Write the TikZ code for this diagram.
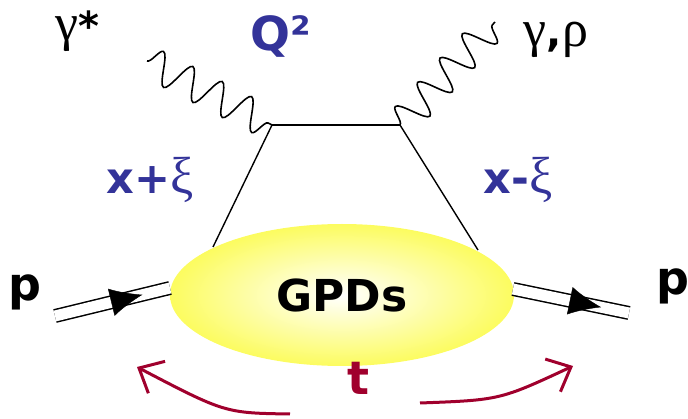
\documentclass[tikz,border=0pt]{standalone}
\usepackage{fontspec}
\setmainfont{DejaVu Sans}
\newfontfamily\greekfont{Liberation Serif}
\usepackage{tikz}
\usetikzlibrary{arrows.meta}
\usetikzlibrary{calc}
\usetikzlibrary{positioning}
\usetikzlibrary{shapes.geometric}
\usetikzlibrary{decorations.pathmorphing,decorations.markings}

\definecolor{qblue}{RGB}{51,51,153}
\definecolor{tred}{RGB}{160,0,45}
\definecolor{gpdyellow}{RGB}{252,252,95}

\tikzset{
  photon/.style={decorate, decoration={snake, segment length=33pt, amplitude=16pt}, line width=1.6pt},
  quark/.style={line width=1.4pt},
  proton/.style={double, double distance=11pt, line width=1.5pt},
  protonarrow/.style={postaction={decorate}, decoration={markings, mark=at position 0.76 with {\arrow{Latex[length=32pt,width=28pt]}}}},
  tarrow/.style={draw=tred, line width=3pt, -{Straight Barb[length=20pt,width=36pt,line width=3pt]}},
  gpd/.style={ellipse, minimum width=344pt, minimum height=142pt, inner color=white, outer color=gpdyellow, font=\fontsize{44}{48}\selectfont\bfseries},
  lbl/.style={inner sep=0pt, font=\fontsize{46}{50}\selectfont\bfseries},
  glbl/.style={inner sep=0pt, font=\fontsize{40}{44}\selectfont},
  blbl/.style={inner sep=0pt, text=qblue, font=\fontsize{43}{46}\selectfont\bfseries}
}

\newcommand{\gk}[1]{{\fontsize{52}{56}\selectfont\mdseries\greekfont #1}}

\begin{document}
\begin{tikzpicture}[x=1pt, y=-1pt, >=Latex]
	\useasboundingbox (0,0) rectangle (688,419);
	% blob
	\node[gpd] (gpd) at (342,295) {GPDs};
	% vertices
	\coordinate (v1) at (272,125);
	\coordinate (v2) at (400,125);
	\coordinate (gl) at (213,247);
	\coordinate (gr) at (478,250);
	\coordinate (g1) at (147,61);
	\coordinate (g2) at (495,22);
	\draw[quark] (v1) -- (v2);
	\draw[quark] (v1) -- (gl);
	\draw[quark] (v2) -- (gr);
	\draw[photon] (g1) -- (v1);
	\draw[photon] (v2) -- (g2);
	% protons
	\coordinate (pin) at (55,316);
	\coordinate (pl) at (170,288);
	\coordinate (pr) at (513,289);
	\coordinate (pout) at (629,313);
	\draw[proton] (pin) -- (pl);
	\path[protonarrow] (pin) -- (pl);
	\draw[proton] (pr) -- (pout);
	\path[protonarrow] (pr) -- (pout);
	% labels
	\node[glbl] (gstar) at (77,31) {\gk{γ}\textbf{*}};
	\node[glbl] (gout) at (556,40) {\gk{γ}\textbf{,}\gk{ρ}};
	\node[blbl, font=\fontsize{47}{50}\selectfont\bfseries] (q2) at (281,36) {Q²};
	\node[blbl] (xl) at (150,180) {x+\gk{ξ}};
	\node[blbl] (xr) at (518,180) {x-\gk{ξ}};
	\node[lbl] (pleft) at (25,292) {p};
	\node[lbl] (pright) at (673,286) {p};
	\node[lbl, text=tred] (t) at (358,378) {t};
	% momentum transfer
	\coordinate (ta) at (290,414);
	\coordinate (tb) at (137,367);
	\coordinate (tc) at (420,403);
	\coordinate (td) at (573,366);
	\draw[tarrow] (ta) .. controls (225,413) .. (tb);
	\draw[tarrow] (tc) .. controls (500,400) .. (td);
\end{tikzpicture}
\end{document}
